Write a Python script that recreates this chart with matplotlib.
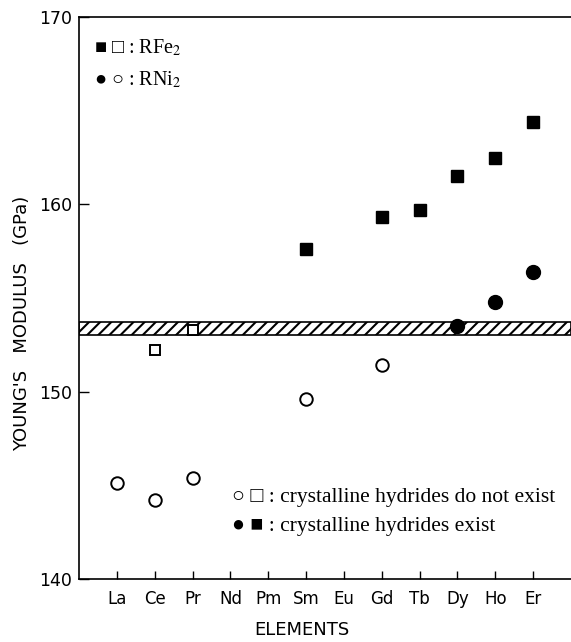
import matplotlib
matplotlib.use('Agg')
import matplotlib.pyplot as plt

# Young's modulus of RFe2 / RNi2 Laves phases
elements = ['La', 'Ce', 'Pr', 'Nd', 'Pm', 'Sm', 'Eu', 'Gd', 'Tb', 'Dy', 'Ho', 'Er']

rfe2_el = ['Ce', 'Pr', 'Sm', 'Gd', 'Tb', 'Dy', 'Ho', 'Er']
rfe2_E = [152.2, 153.3, 157.6, 159.3, 159.7, 161.5, 162.5, 164.4]
rfe2_hyd = [False, False, True, True, True, True, True, True]

rni2_el = ['La', 'Ce', 'Pr', 'Sm', 'Gd', 'Dy', 'Ho', 'Er']
rni2_E = [145.1, 144.2, 145.4, 149.6, 151.4, 153.5, 154.8, 156.4]
rni2_hyd = [False, False, False, False, False, True, True, True]

band_lo, band_hi = 153.05, 153.7   # hatched critical band
yticks = [140, 150, 160, 170]

plt.rcParams['mathtext.fontset'] = 'stix'
plt.rcParams['hatch.linewidth'] = 1.5
serif = ['Liberation Serif', 'DejaVu Sans']

fig = plt.figure(figsize=(5.71, 6.42), dpi=100)
ax = fig.add_axes([79/571, 1-579/642, 1-79/571, (579-17)/642])

ax.axhspan(band_lo, band_hi, facecolor='white', edgecolor='black', hatch='///', lw=1.2, zorder=1)

xpos = {e: i for i, e in enumerate(elements)}

for el, E, h in zip(rfe2_el, rfe2_E, rfe2_hyd):
    if h:
        ax.plot(xpos[el], E, marker='s', ms=9, color='black', ls='None', zorder=3)
    else:
        ax.plot(xpos[el], E, marker='s', ms=7.5, mfc='white', mec='black', mew=1.4, ls='None', zorder=3)

for el, E, h in zip(rni2_el, rni2_E, rni2_hyd):
    if h:
        ax.plot(xpos[el], E, marker='o', ms=10, color='black', ls='None', zorder=3)
    else:
        ax.plot(xpos[el], E, marker='o', ms=9, mfc='white', mec='black', mew=1.4, ls='None', zorder=3)

ax.set_xlim(-1, 12)
ax.set_ylim(140, 170)
ax.set_xticks(range(len(elements)))
ax.set_xticklabels(elements)
ax.set_yticks(yticks)
ax.tick_params(axis='x', direction='in', length=6, width=1, pad=8, labelsize=12)
ax.tick_params(axis='y', direction='in', length=7, width=1, pad=5, labelsize=12.5)
ax.spines['right'].set_visible(False)
for s in ['left', 'bottom', 'top']:
    ax.spines[s].set_linewidth(1.2)

fig.text(22/571, 1-323/642, "YOUNG'S   MODULUS   (GPa)", rotation=90, ha='center', va='center', fontsize=13)
fig.text(302/571, 1-630/642, 'ELEMENTS', ha='center', va='center', fontsize=13)

# legends drawn as text, like in the original
ax.text(0.03, 0.945, '\u25a0 \u25a1 : RFe$_2$', transform=ax.transAxes, family=serif, fontsize=14.5, va='center')
ax.text(0.03, 0.888, '\u25cf \u25cb : RNi$_2$', transform=ax.transAxes, family=serif, fontsize=14.5, va='center')
ax.text(0.31, 0.145, '\u25cb \u25a1 : crystalline hydrides do not exist', transform=ax.transAxes, family=serif, fontsize=15.5, va='center')
ax.text(0.31, 0.093, '\u25cf \u25a0 : crystalline hydrides exist', transform=ax.transAxes, family=serif, fontsize=15.5, va='center')

fig.savefig('out.png', dpi=100)
